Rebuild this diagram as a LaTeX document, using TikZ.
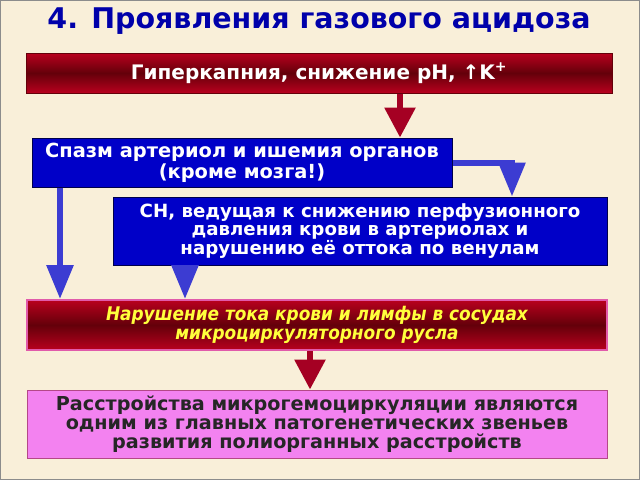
\documentclass[tikz,border=0pt]{standalone}
\usepackage{fontspec}
\setmainfont{DejaVu Sans}
\newfontfamily\condfont{DejaVu Sans Condensed}
\usetikzlibrary{arrows.meta,calc}
\definecolor{bg}{RGB}{249,239,217}
\definecolor{titleblue}{RGB}{0,0,170}
\definecolor{boxblue}{RGB}{0,0,200}
\definecolor{arrblue}{RGB}{60,60,210}
\definecolor{darkred}{RGB}{100,0,10}
\definecolor{midred}{RGB}{185,0,30}
\definecolor{arrred}{RGB}{165,0,35}
\definecolor{pinkfill}{RGB}{243,130,240}
\definecolor{pinkborder}{RGB}{225,90,170}
\definecolor{textyellow}{RGB}{255,255,60}
\begin{document}
\begin{tikzpicture}[x=1pt,y=-1pt,
  redbox/.style={draw=darkred,line width=1pt,top color=midred,bottom color=midred,middle color=darkred,minimum width=586pt,minimum height=40pt,inner sep=0pt,text=white,font=\bfseries\fontsize{20}{21}\selectfont},
  bluebox/.style={draw=black!70!blue,line width=1pt,fill=boxblue,text=white,inner sep=0pt,align=center,font=\bfseries\fontsize{19.4}{21}\selectfont},
  micro/.style={draw=pinkborder,line width=2pt,top color=midred,bottom color=midred,middle color=darkred,minimum width=580pt,minimum height=50pt,inner sep=0pt,align=center,text=textyellow,font=\condfont\bfseries\itshape\fontsize{18.8}{18.5}\selectfont},
  pinkbox/.style={draw=pinkborder!80!black,line width=1pt,fill=pinkfill,minimum width=580pt,minimum height=68pt,inner sep=0pt,align=center,text=black!85,font=\bfseries\fontsize{19.2}{18.8}\selectfont},
  redarrow/.style={draw=arrred,line width=6pt,-{Triangle[width=30pt,length=30pt]}},
  bluearrow/.style={draw=arrblue,line width=6pt,-{Triangle[width=26pt,length=34pt]}}
]
\useasboundingbox (0,0) rectangle (640,480);
\fill[bg] (0,0) rectangle (640,480);
\draw[black!45,line width=1pt] (0.5,0.5) rectangle (639.5,479.5);

\node[text=titleblue,font=\bfseries\fontsize{28.5}{30}\selectfont] (title) at (319,21) {4. Проявления газового ацидоза};

\node[redbox] (b1) at (319,73) {Гиперкапния, снижение pH, ↑K\textsuperscript{+}};
\node[bluebox,minimum width=420pt,minimum height=49pt] (b2) at (242,162.5) {Спазм артериол и ишемия органов\\(кроме мозга!)};
\node[bluebox,minimum width=494pt,minimum height=68pt,font=\bfseries\fontsize{18.2}{18.8}\selectfont] (b3) at (360,231) {СН, ведущая к снижению перфузионного\\давления крови в артериолах и\\нарушению её оттока по венулам};
\node[micro] (b4) at (317,325) {Нарушение тока крови и лимфы в сосудах\\микроциркуляторного русла};
\node[pinkbox] (b5) at (317,424) {Расстройства микрогемоциркуляции являются\\одним из главных патогенетических звеньев\\развития полиорганных расстройств};

\draw[redarrow] ([xshift=81pt]b1.south) -- ([xshift=81pt]b1.south |- b2.north);
\draw[bluearrow] (b2.east |- 0,163) -| ([xshift=152pt]b3.north);
\draw[bluearrow] ([xshift=-182pt]b2.south) -- ([xshift=-182pt]b2.south |- b4.north);
\draw[bluearrow] ([xshift=-175pt]b3.south) -- ([xshift=-175pt]b3.south |- b4.north);
\draw[redarrow] ([xshift=-7pt]b4.south) -- ([xshift=-7pt]b4.south |- b5.north);
\end{tikzpicture}
\end{document}
